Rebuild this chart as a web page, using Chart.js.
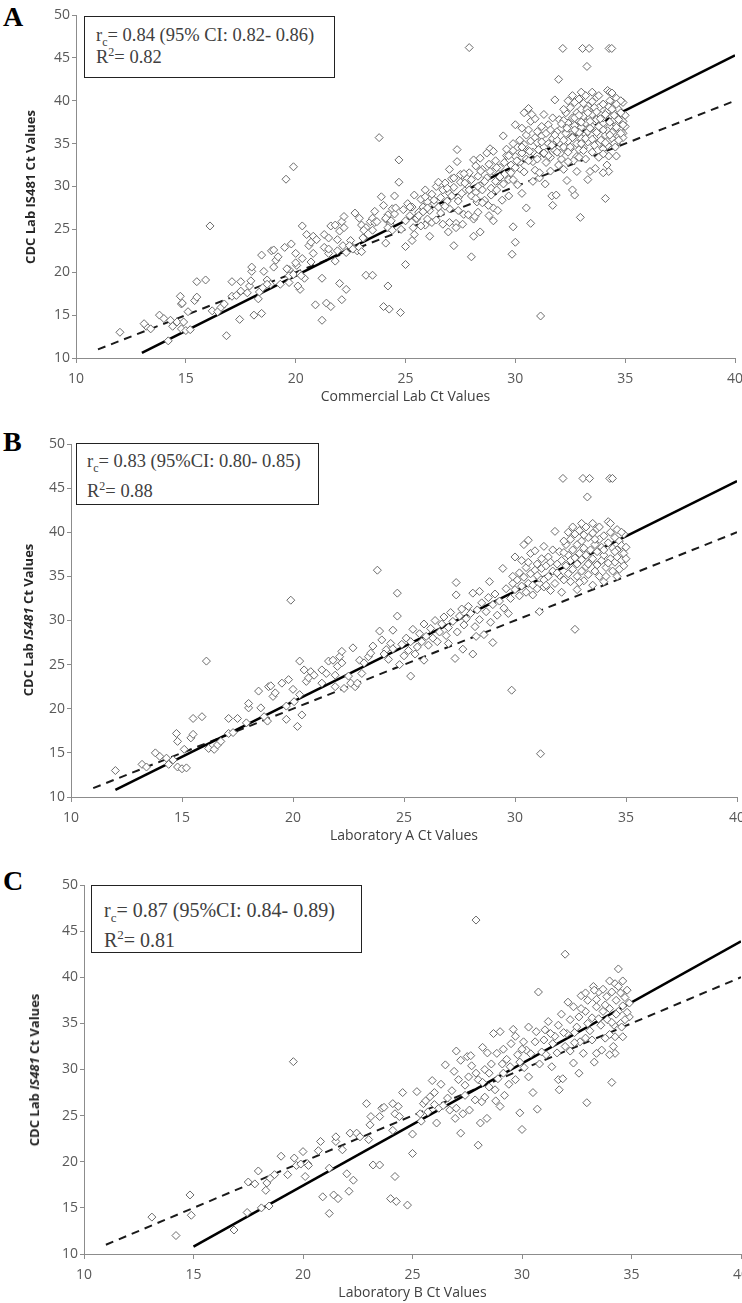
<!DOCTYPE html>
<html>
<head>
<meta charset="utf-8">
<title>CDC IS481 Ct comparison</title>
<script src="https://cdn.jsdelivr.net/npm/chart.js@4.4.1/dist/chart.umd.min.js"></script>
<style>
  body { margin: 0; width: 742px; height: 1303px; overflow: hidden; background: #fff; position: relative; }
  .panel { position: absolute; left: 0; width: 760px; }
  .letter { position: absolute; left: 3px; font: bold 28px "Liberation Serif", serif; line-height: 28px; color: #000; }
  .stats { position: absolute; box-sizing: border-box; border: 1px solid #222; background: #fff;
           font: 18.5px "Liberation Serif", serif; color: #404040; white-space: nowrap; }
  .stats sub, .stats sup { font-size: 0.65em; line-height: 0; }
  .ytitle { position: absolute; transform: translate(-50%, -50%) rotate(-90deg);
            font: bold 13px "Open Sans", sans-serif; color: #262626; white-space: nowrap; }
</style>
</head>
<body>

<div class="letter" style="top:3px;">A</div>
<div class="letter" style="top:428px;">B</div>
<div class="letter" style="top:867px;">C</div>

<div class="panel" style="top:0px; height:407px;"><canvas id="chartA"></canvas></div>
<div class="panel" style="top:430px; height:416px;"><canvas id="chartB"></canvas></div>
<div class="panel" style="top:860px; height:443px;"><canvas id="chartC"></canvas></div>

<div class="stats" style="left:84px; top:16px; width:251px; height:62px; padding:7px 0 0 11px; line-height:22px;">
  <div>r<sub>c</sub>= 0.84 (95% CI: 0.82- 0.86)</div>
  <div>R<sup>2</sup>= 0.82</div>
</div>
<div class="stats" style="left:76px; top:443px; width:243px; height:62px; padding:2px 0 0 10px; line-height:30px;">
  <div>r<sub>c</sub>= 0.83 (95%CI: 0.80- 0.85)</div>
  <div>R<sup>2</sup>= 0.88</div>
</div>
<div class="stats" style="left:91px; top:885px; width:271px; height:68px; padding:9px 0 0 12px; line-height:30px; font-size:20px;">
  <div>r<sub>c</sub>= 0.87 (95%CI: 0.84- 0.89)</div>
  <div>R<sup>2</sup>= 0.81</div>
</div>

<div class="ytitle" style="left:30px; top:187px;">CDC Lab IS481 Ct Values</div>
<div class="ytitle" style="left:28px; top:620px;">CDC Lab <i>IS481</i> Ct Values</div>
<div class="ytitle" style="left:34px; top:1070px;">CDC Lab <i>IS481</i> Ct Values</div>

<script>
'use strict';

// ******* DATA *******
// axis ticks (same for all three panels)
let xTicks = [10, 15, 20, 25, 30, 35, 40];
let yTicks = [10, 15, 20, 25, 30, 35, 40, 45, 50];

// Laboratory A vs CDC  [lab Ct, CDC IS481 Ct]
let labAPoints = [
  [12.0,13.0],[13.2,13.7],[13.4,13.4],[13.8,15.0],[14.0,14.6],[14.3,14.4],[14.4,13.7],[14.6,14.2],[14.8,13.4],
  [14.75,17.2],[14.8,16.3],[15.0,13.2],[15.1,15.4],[15.2,13.3],[15.4,16.7],[15.5,17.1],[15.5,18.9],[15.9,19.1],
  [16.1,25.4],[16.2,15.5],[16.45,15.4],[16.6,15.9],[16.75,16.3],[17.1,18.9],[17.1,17.2],[17.3,17.3],[17.5,18.9],
  [17.9,18.4],[18.0,20.1],[18.0,20.6],[18.45,22.0],[18.55,20.1],[18.7,19.1],[18.85,18.6],[18.9,22.5],[19.0,22.6],
  [19.1,21.4],[19.2,21.8],[19.5,22.9],[19.7,20.3],[19.7,18.8],[19.9,32.3],[19.8,23.3],[20.0,22.2],[20.05,20.8],
  [20.2,18.0],[20.3,21.6],[20.3,25.4],[20.4,19.3],[20.5,24.4],[20.6,23.1],[20.7,23.5],[20.8,24.2],[20.95,23.8],
  [21.3,22.9],[21.3,24.4],[21.5,24.0],[21.6,25.4],[21.8,25.5],[21.9,22.5],[21.9,23.8],[22.0,24.8],[22.1,25.9],
  [22.2,26.5],[22.2,25.2],[22.3,22.3],[22.5,23.7],[22.6,22.9],[22.7,26.9],[22.8,22.5],[22.9,22.9],[23.0,25.5],
  [23.1,24.0],[23.2,25.2],[23.4,25.9],[23.5,26.3],[23.6,27.1],[23.8,35.7],[23.9,28.8],[24.0,27.8],[24.2,26.7],
  [24.4,27.4],[24.5,28.9],[24.7,33.1],[24.7,30.5],
  [24.1,26.2],[24.3,25.6],[24.5,26.8],[24.8,25.0],[24.9,27.3],[25.0,26.0],[25.1,28.0],[25.2,26.6],[25.3,23.7],
  [25.3,27.6],[25.4,29.0],[25.5,26.2],[25.6,27.0],[25.7,28.5],[25.8,27.6],[25.9,25.5],[25.9,29.6],[26.0,28.2],
  [26.1,27.2],[26.2,29.1],[26.3,28.0],[26.4,30.0],[26.5,27.6],[26.6,28.7],[26.7,29.6],[26.8,30.4],[26.9,28.3],
  [27.0,27.4],[27.0,29.2],[27.1,30.9],[27.2,29.9],[27.35,34.3],[27.35,32.9],[27.4,28.7],[27.5,30.5],[27.6,31.3],
  [27.65,26.75],[27.7,29.5],[27.8,30.2],[27.9,31.6],[28.0,30.8],[28.1,33.1],[28.2,29.3],[28.25,28.2],[28.3,31.2],
  [28.4,33.3],[28.4,30.1],[28.5,32.0],[28.6,28.4],[28.7,31.0],[28.8,32.6],[28.85,34.4],[28.9,29.8],[29.0,31.8],
  [29.1,33.0],[29.2,30.6],[29.3,32.2],[29.45,35.9],[29.5,31.4],[29.6,33.6],[29.85,22.1],[29.7,30.8],[29.8,32.5],
  [29.9,34.2],[27.3,25.7],[28.1,26.2],[29.0,27.5],
  [30.0,37.2],[30.0,33.5],[30.1,34.6],[30.2,32.8],[30.2,35.4],[30.3,33.9],[30.4,38.6],[30.4,34.9],[30.5,33.2],
  [30.5,36.0],[30.6,39.1],[30.6,36.6],[30.6,34.2],[30.7,35.3],[30.8,32.9],[30.8,34.0],[30.9,35.7],[31.0,33.6],
  [31.0,36.4],[31.1,31.0],[31.1,34.8],[31.15,14.9],[31.2,35.9],[31.3,33.8],[31.3,34.6],[31.4,36.2],[31.5,37.2],
  [31.5,35.0],[31.6,33.4],[31.7,38.0],[31.7,35.6],[31.8,40.1],[31.8,34.2],[31.9,36.4],[32.0,35.1],[32.1,33.2],
  [32.1,36.8],[32.16,46.1],[32.2,34.6],
  [32.3,36.2],[32.3,38.6],[32.4,35.3],[32.4,37.4],[32.5,34.4],[32.5,36.8],[32.5,39.2],[32.6,35.8],[32.6,38.0],
  [32.7,29.0],[32.7,37.1],[32.7,39.8],[32.8,33.5],[32.8,35.0],[32.8,36.4],[32.8,38.6],[32.9,37.6],[32.9,40.2],
  [33.0,35.6],[33.0,36.9],[33.0,39.0],[33.06,46.1],[33.1,34.5],[33.1,38.2],[33.2,36.1],[33.2,37.4],[33.2,40.6],
  [33.26,44.0],[33.3,35.2],[33.3,39.4],[33.36,46.1],[33.4,36.7],[33.4,38.0],[33.5,34.0],[33.5,37.0],[33.5,39.9],
  [33.6,35.6],[33.6,38.6],[33.7,36.3],[33.7,37.8],[33.7,40.4],[33.8,35.0],[33.8,39.2],[33.9,36.8],[33.9,38.3],
  [34.0,34.4],[34.0,37.4],[34.0,39.6],[34.1,35.0],[34.1,36.0],[34.2,41.2],[34.2,38.8],[34.27,46.1],[34.3,37.0],
  [34.3,40.0],[34.39,46.1],[34.4,35.6],[34.4,38.2],[34.5,36.6],[34.5,39.4],[34.6,38.0],[34.6,40.3],[34.6,37.2],
  [34.7,35.8],[34.7,39.0],[34.8,36.8],[34.8,38.5],[34.9,37.6],[34.9,39.8],[35.0,38.3],
  [29.9,35.0],[30.3,36.8],[30.7,37.6],[31.0,35.1],[31.2,37.0],[31.4,34.0],[31.6,36.6],[31.9,35.4],[32.0,37.8],
  [32.2,39.0],[32.4,40.0],[32.6,40.6],[32.9,34.3],[33.0,41.0],[33.3,36.4],[33.5,41.0],[33.8,40.6],[34.0,38.0],
  [34.2,36.5],[34.5,37.8],[34.6,35.0],[34.8,40.0],[34.9,36.2],[35.0,37.0],[33.6,39.2],[33.1,39.7],[32.2,37.7],
  [31.3,38.4],[30.9,37.9],[34.3,41.0]
];

// Laboratory B vs CDC  [lab Ct, CDC IS481 Ct]
let labBPoints = [
  [13.1,14.0],[14.2,12.0],[14.9,14.2],[14.84,16.4],[16.85,12.6],[17.45,14.5],[17.5,17.8],[17.8,17.6],[17.96,19.0],
  [18.1,15.0],[18.3,16.9],[18.35,17.7],[18.45,15.2],[18.5,18.2],[18.7,18.6],[19.0,20.6],[19.3,18.6],[19.56,30.85],
  [19.6,20.4],[19.7,19.6],[19.9,19.75],[20.0,21.1],[20.1,18.4],[20.2,19.8],[20.25,19.6],[20.7,21.2],[20.8,22.2],
  [20.9,16.2],[21.2,19.3],[21.2,14.4],[21.4,16.4],[21.5,22.2],[21.5,22.7],[21.6,16.0],[21.8,21.3],[22.0,18.7],
  [22.1,16.8],[22.15,23.1],[22.3,18.0],[22.45,23.1],[22.6,22.7],[22.9,26.3],[23.0,22.4],[23.06,24.0],[23.1,24.9],
  [23.2,19.65],[23.5,19.65],[23.5,24.9],[23.6,25.8],[23.7,25.9],[24.0,16.0],[24.1,23.4],[24.1,26.3],[24.2,18.4],
  [24.2,25.2],[24.26,15.7],[24.35,26.0],[24.4,24.9],[24.55,27.5],[24.77,15.3],
  [25.0,23.0],[25.0,20.9],[25.35,25.2],[25.5,26.3],[25.8,27.05],[25.9,28.8],[26.1,24.2],[26.2,25.8],[26.6,26.9],
  [26.95,24.7],[27.0,25.8],[27.1,28.9],[27.2,23.1],[27.2,31.0],[27.3,25.2],[27.5,31.4],[27.56,29.2],[27.66,31.5],
  [27.86,26.7],[27.9,46.2],[27.9,29.6],[28.0,21.8],[28.1,24.2],[28.16,26.5],[28.3,30.0],[28.4,24.7],[28.42,31.8],
  [28.5,28.1],[28.7,33.9],[28.77,27.8],[28.85,31.75],[29.0,34.1],[29.0,26.0],[29.15,32.2],[29.15,29.6],[29.46,30.3],
  [29.6,34.35],[29.7,28.9],[29.7,33.6],[29.9,25.3],[30.0,23.5],[30.07,33.0],[30.2,32.1],[30.3,34.6],[30.5,27.5],
  [30.65,34.1],[30.7,25.7],[30.75,38.4],[31.0,33.2],[31.05,34.3],[31.36,30.3],[31.4,32.8],[31.66,34.8],[31.66,28.9],
  [31.7,27.8],[31.86,29.0],[31.97,42.5],[31.97,32.5],[32.05,33.9],[32.2,35.4],[32.35,36.8],[32.35,30.7],[32.5,34.6],
  [32.65,33.0],[32.8,31.75],[32.9,36.3],[32.96,26.4],[33.0,37.5],[33.26,39.0],[33.4,36.8],[33.4,31.75],[33.5,38.4],
  [33.64,32.1],[33.7,36.3],[33.87,37.9],[34.0,36.6],[34.1,38.4],[34.1,28.6],[34.17,32.5],[34.25,33.55],[34.25,31.75],
  [34.25,39.3],[34.3,37.5],[34.4,36.3],[34.4,40.9],[34.4,39.0],[34.5,35.0],[34.55,34.6],[34.6,33.55],
  [25.2,27.6],[25.6,26.6],[26.0,27.5],[26.3,28.4],[26.4,26.1],[26.8,27.7],[26.9,29.8],[27.4,28.3],[27.7,30.4],
  [28.0,28.9],[28.2,32.4],[28.6,30.6],[28.9,29.0],[29.3,31.1],[29.5,32.8],[29.8,31.6],[30.1,30.2],[30.4,31.7],
  [30.6,33.0],[30.9,31.9],[31.2,35.2],[31.5,33.6],[31.8,36.0],[32.1,37.3],[32.4,32.9],[32.6,35.7],[32.7,38.0],
  [33.1,34.2],[33.2,35.6],[33.6,34.8],[33.8,37.0],[33.9,35.4],[34.0,33.8],[34.2,34.8],[34.6,36.9],[34.7,37.8],
  [34.8,38.6],[34.9,35.7],[33.3,38.6],[32.9,33.4],[29.2,27.2],[28.3,27.0],[27.0,32.0],[26.5,30.5],
  [25.4,24.4],[25.7,25.4],[26.0,26.2],[26.7,25.6],[27.4,27.2],[27.6,25.6],[28.2,28.6],[28.5,29.6],[28.8,26.6],
  [29.1,30.6],[29.4,28.4],[29.9,30.8],[30.0,32.2],[30.3,29.2],[30.8,30.6],[31.1,31.6],[31.3,33.9],[31.6,31.8],
  [31.9,34.0],[32.2,32.0],[32.4,34.0],[32.7,36.6],[32.9,38.3],[33.0,35.0],[33.2,33.2],[33.4,37.6],[33.5,35.5],
  [33.7,38.7],[33.8,33.4],[34.0,39.6],[34.1,35.1],[34.3,36.0],[34.5,38.3],[34.6,39.6],[34.7,35.4],[34.8,36.2],
  [34.9,37.2],[34.0,31.6],[33.3,30.8],[32.6,29.6]
];

// commercial labs = both laboratories together
let commercialPoints = labAPoints.concat(labBPoints);

// regression line end points
let fitCommercial = [[13, 10.6], [40, 45.3]];
let fitLabA = [[12, 10.8], [40, 45.8]];
let fitLabB = [[15, 10.8], [40, 43.9]];

// line of identity
let identityLine = [[11, 11], [40, 40]];

// ****** HELPERS ******
function toXY(pairs) {
  return pairs.map(p => ({ x: p[0], y: p[1] }));
}

function makeChart(canvasId, points, fit, xTitle, leftPx, topPad, rightPad) {
  let ctx = document.getElementById(canvasId).getContext('2d');
  let axisGrey = '#8c8c8c';
  let tickFont = { family: 'Open Sans', size: 14 };

  return new Chart(ctx, {
    type: 'scatter',
    data: {
      datasets: [
        {
          data: toXY(points),
          pointStyle: 'rectRot',
          pointRadius: 4,
          pointBorderWidth: 1,
          pointBorderColor: '#6a6a6a',
          pointBackgroundColor: '#ffffff'
        },
        {
          data: toXY(fit),
          showLine: true,
          borderColor: '#000',
          borderWidth: 2.6,
          pointRadius: 0
        },
        {
          data: toXY(identityLine),
          showLine: true,
          borderColor: '#1a1a1a',
          borderWidth: 2,
          borderDash: [8, 6],
          pointRadius: 0
        }
      ]
    },
    options: {
      responsive: true,
      maintainAspectRatio: false,
      animation: false,
      events: [],
      layout: { padding: { left: 0, top: topPad, right: rightPad, bottom: 0 } },
      plugins: { legend: { display: false }, tooltip: { enabled: false } },
      scales: {
        x: {
          type: 'linear',
          min: xTicks[0],
          max: xTicks[xTicks.length - 1],
          afterBuildTicks: axis => { axis.ticks = xTicks.map(v => ({ value: v })); },
          afterFit: axis => { axis.height = 49; },
          ticks: { font: tickFont, color: '#595959', padding: 8, maxRotation: 0 },
          grid: { drawOnChartArea: false, drawTicks: true, tickLength: 5, color: axisGrey },
          border: { color: axisGrey },
          title: {
            display: true,
            text: xTitle,
            font: { family: 'Open Sans', size: 14 },
            color: '#404040',
            padding: { top: 0, bottom: 2 }
          }
        },
        y: {
          type: 'linear',
          min: yTicks[0],
          max: yTicks[yTicks.length - 1],
          afterBuildTicks: axis => { axis.ticks = yTicks.map(v => ({ value: v })); },
          afterFit: axis => { axis.width = leftPx; },
          ticks: { font: tickFont, color: '#595959', padding: 2 },
          grid: { drawOnChartArea: false, drawTicks: true, tickLength: 4, color: axisGrey },
          border: { color: axisGrey }
        }
      }
    }
  });
}

// ****** EXECUTABLE CODE ******
makeChart('chartA', commercialPoints, fitCommercial, 'Commercial Lab Ct Values', 76, 15, 25);
makeChart('chartB', labAPoints, fitLabA, 'Laboratory A Ct Values', 71, 14, 23);
makeChart('chartC', labBPoints, fitLabB, 'Laboratory B Ct Values', 84, 25, 19);
</script>
</body>
</html>
